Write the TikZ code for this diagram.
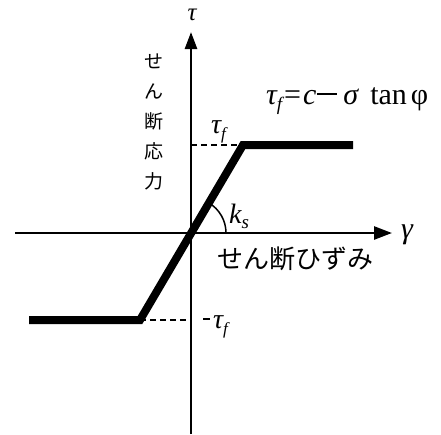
\documentclass[tikz,border=0pt]{standalone}
\usepackage{fontspec}
\newfontfamily\jp{Noto Sans CJK JP}
\newfontfamily\tms{Liberation Serif}
\usetikzlibrary{arrows.meta}
\newcommand{\subf}[1]{\raisebox{-0.22em}{\fontsize{#1}{#1}\selectfont\itshape f}}
\begin{document}
\begin{tikzpicture}[x=1pt,y=-1pt,
  axis/.style={line width=2.6pt},
  curve/.style={line width=8pt, line join=miter},
  guide/.style={line width=1.8pt, dash pattern=on 6pt off 4pt},
  lbl/.style={inner sep=0pt, font=\tms\fontsize{28}{32}\selectfont},
  jplbl/.style={inner sep=0pt, font=\jp\fontsize{19}{30}\selectfont, align=center}]
\useasboundingbox (0,0) rectangle (441,434);
\coordinate (O) at (191,233);
\coordinate (yb) at (191,434);
\coordinate (yt) at (191,32);
\coordinate (xl) at (15,233);
\coordinate (xr) at (392,233);
\coordinate (p1) at (29,320);
\coordinate (p2) at (140,320);
\coordinate (p3) at (243,145);
\coordinate (p4) at (353,145);
\coordinate (a1) at (191,145);
\coordinate (a2) at (191,320);
% axes
\draw[axis, -{Triangle[length=17pt,width=12pt]}] (yb) -- (yt);
\draw[axis, -{Triangle[length=18pt,width=13pt]}] (xl) -- (xr);
% guides
\draw[guide] (a1) -- (p3);
\draw[guide] (p2) -- (a2);
% curve
\draw[curve] (p1) -- (p2) -- (p3) -- (p4);
% angle arc
\draw[line width=1.5pt] ([xshift=35pt]O) arc[start angle=0, end angle=59.6, radius=35pt];
% labels
\node[lbl, font=\tms\fontsize{25}{28}\selectfont] (tau) at (192,15) {\itshape τ};
\node[lbl, anchor=base west, font=\tms\fontsize{30}{32}\selectfont] (gam) at (401,238) {\itshape γ};
\node[lbl, anchor=base west] (tf) at (211,133) {\itshape τ\subf{17}};
\node[lbl, anchor=base west] (mtf) at (203,328) {\rule[0.3em]{7pt}{1.6pt}\hspace{3pt}\itshape τ\subf{17}};
\node[lbl, anchor=base west] (ks) at (229,223) {\itshape k\raisebox{-0.2em}{\fontsize{19}{19}\selectfont s}};
\node[lbl, anchor=base west, font=\tms\fontsize{30}{32}\selectfont] (eq) at (266,104)
  {\itshape τ\subf{19}\upshape\hspace{2pt}=\hspace{2pt}\itshape c\hspace{1pt}\rule[0.3em]{20pt}{1.6pt}\hspace{6pt}σ\upshape\hspace{12pt}tan\hspace{4pt}φ};
\node[jplbl] (vj) at (154,122) {せ\\ん\\断\\応\\力};
\node[jplbl, font=\jp\fontsize{26}{30}\selectfont, anchor=west] (hj) at (217,259) {せん断ひずみ};
\end{tikzpicture}
\end{document}
